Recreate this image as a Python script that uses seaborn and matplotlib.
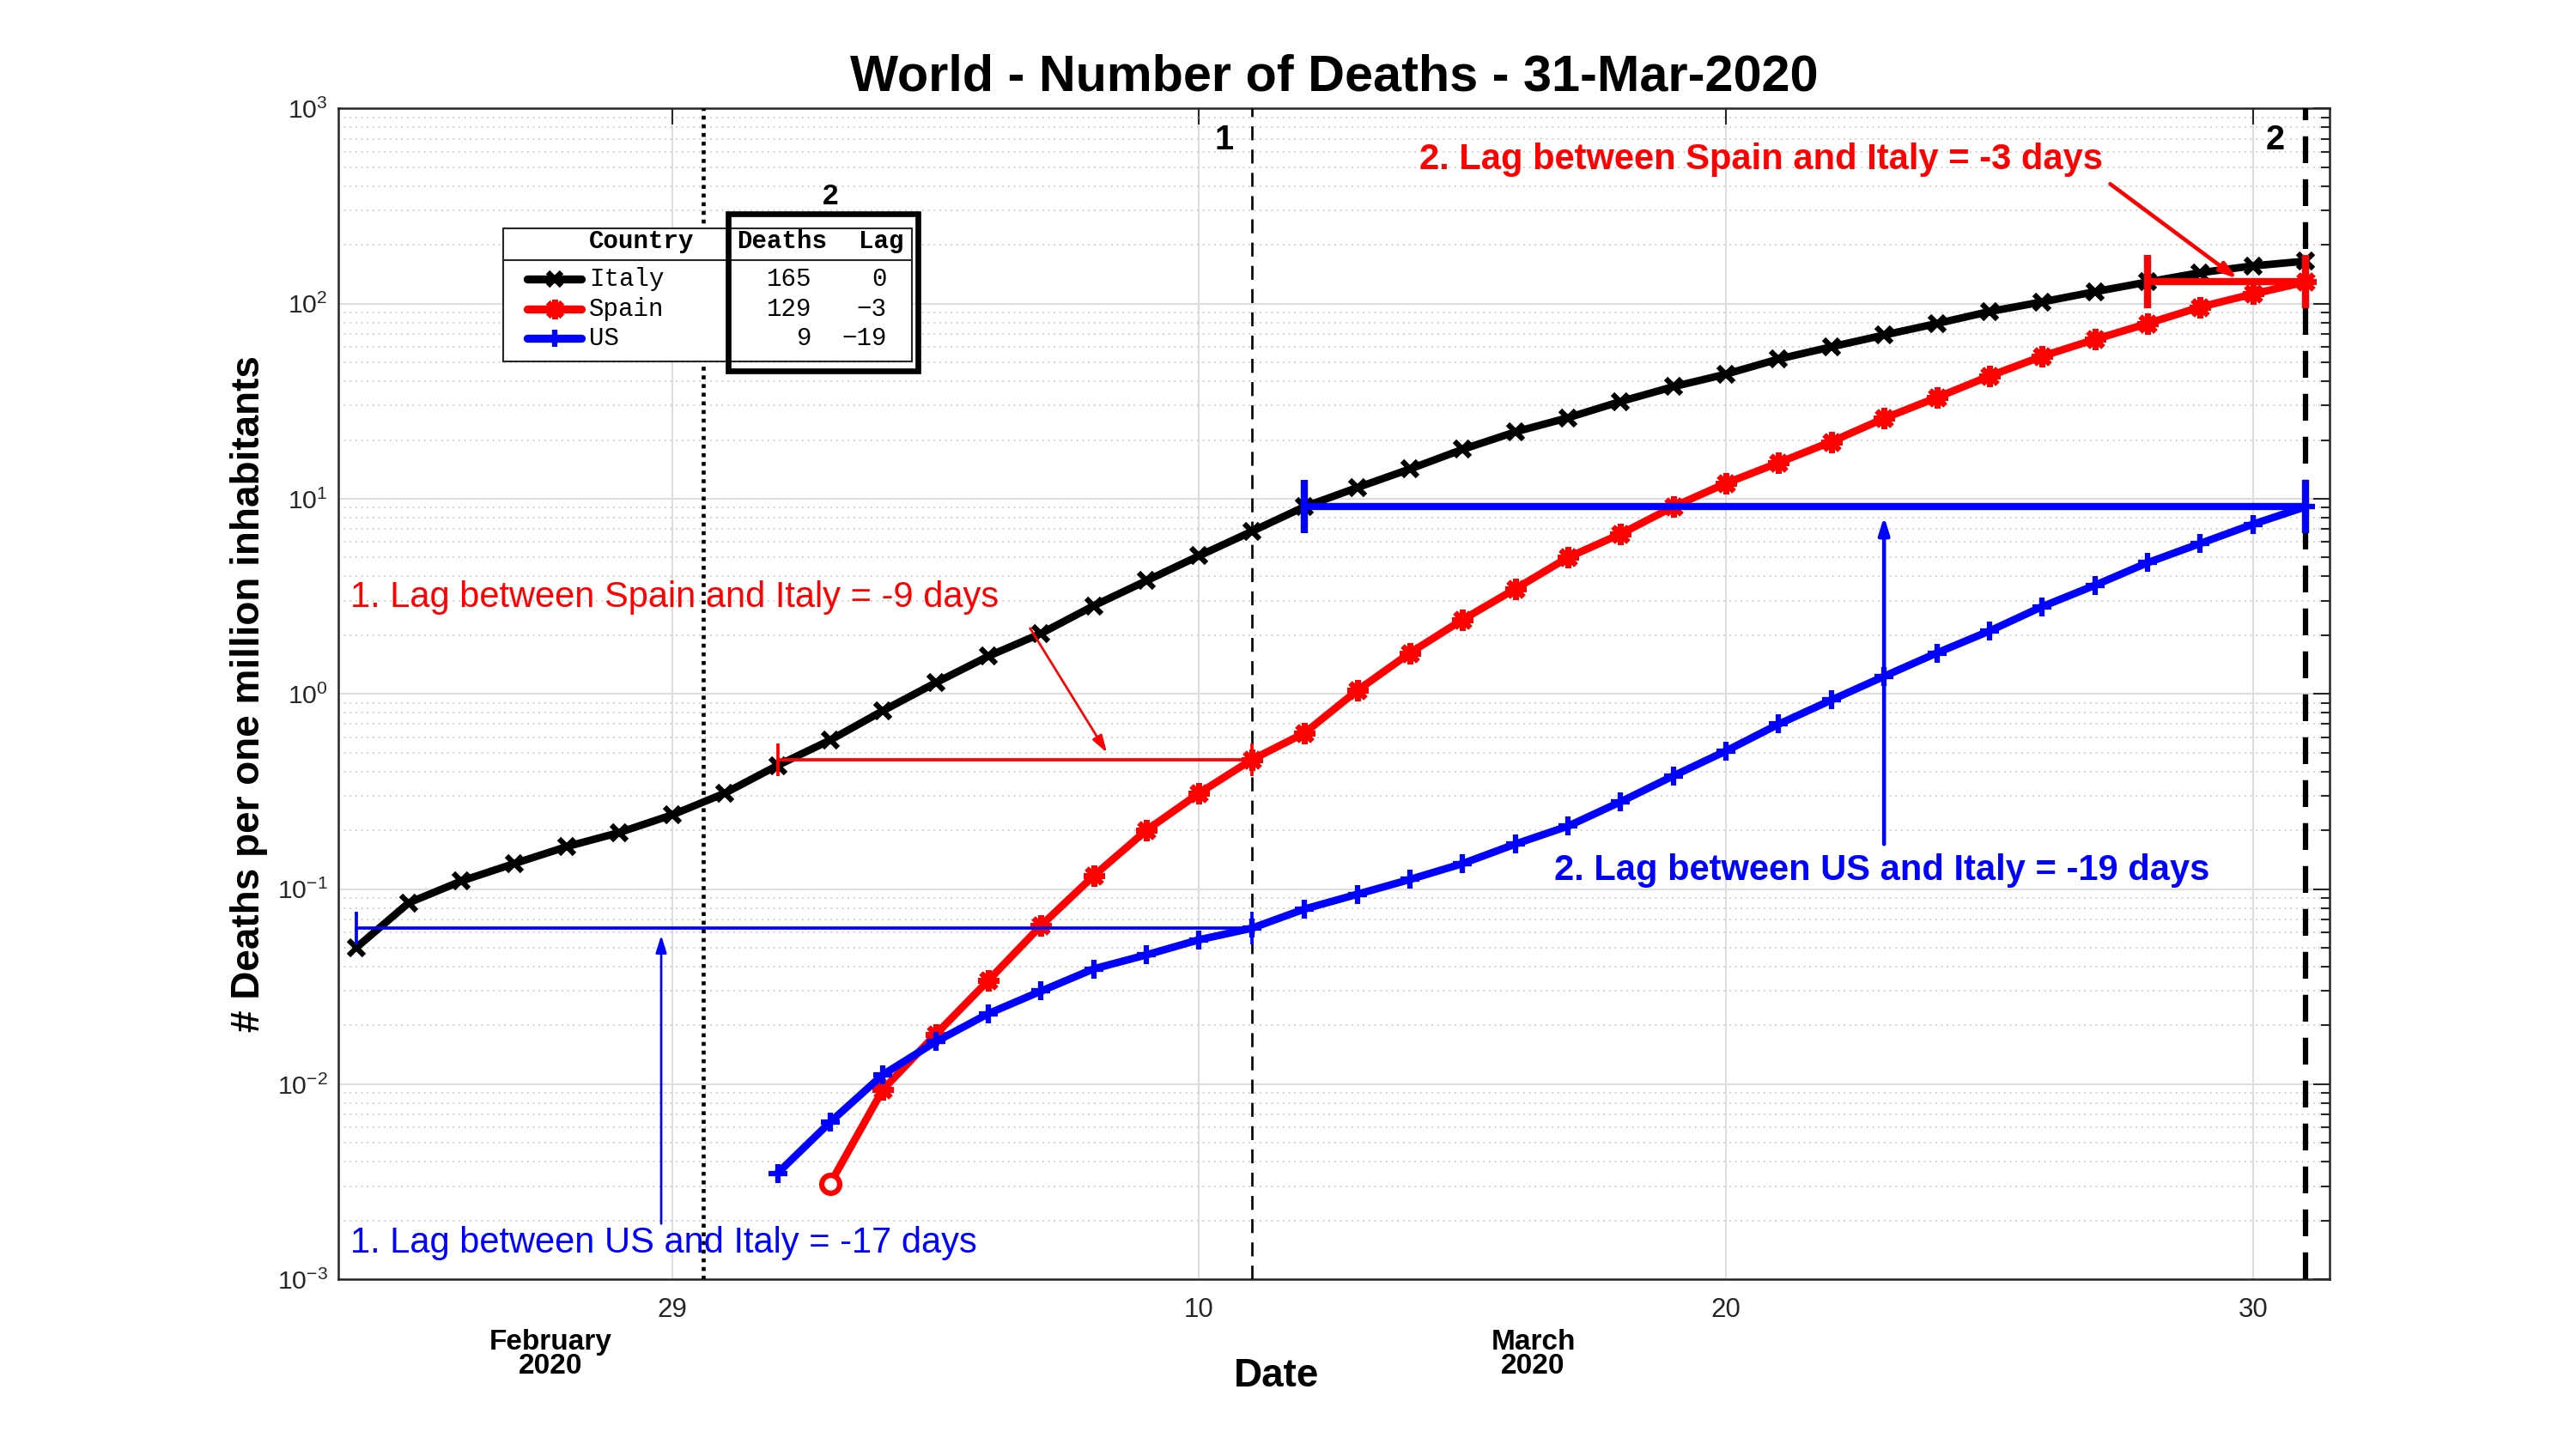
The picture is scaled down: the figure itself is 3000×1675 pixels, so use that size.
import numpy as np
import pandas as pd
import matplotlib
matplotlib.use("Agg")
import matplotlib.pyplot as plt
import matplotlib.dates as mdates
from matplotlib.ticker import LogLocator, FixedLocator, NullFormatter
from matplotlib.lines import Line2D
from matplotlib.patches import Rectangle
import seaborn as sns

# deaths per one million inhabitants, one value per day
italy_dates = pd.date_range("2020-02-23", "2020-03-31")
italy = [0.050, 0.085, 0.11, 0.135, 0.165, 0.195, 0.24, 0.31, 0.43, 0.58,
         0.82, 1.14, 1.56, 2.04, 2.83, 3.8, 5.1, 6.8, 9.1, 11.4,
         14.2, 17.9, 22.0, 26.0, 31.5, 37.5, 43.5, 52.0, 60.0, 69.0,
         79.0, 91.0, 102.0, 115.0, 129.0, 144.0, 156.0, 165.0]

spain_dates = pd.date_range("2020-03-03", "2020-03-31")
spain = [0.0031, 0.0094, 0.018, 0.034, 0.065, 0.117, 0.20, 0.31, 0.46, 0.63,
         1.04, 1.62, 2.4, 3.45, 5.0, 6.6, 9.1, 12.0, 15.3, 19.6,
         25.8, 33.0, 42.5, 53.7, 65.5, 79.0, 96.0, 112.0, 129.0]

us_dates = pd.date_range("2020-03-02", "2020-03-31")
us = [0.0035, 0.0064, 0.0112, 0.0165, 0.023, 0.030, 0.039, 0.046, 0.055, 0.063,
      0.079, 0.094, 0.112, 0.135, 0.17, 0.21, 0.28, 0.38, 0.51, 0.70,
      0.93, 1.23, 1.62, 2.1, 2.8, 3.6, 4.7, 5.9, 7.4, 9.1]

countries = ["Italy", "Spain", "US"]
table_deaths = [165, 129, 9]
table_lags = [0, -3, -19]

# lag segments: (country, start, end, step)
lag_segments = [
    ("Spain", "2020-03-02", "2020-03-11", 1),
    ("US", "2020-02-23", "2020-03-11", 1),
    ("Spain", "2020-03-28", "2020-03-31", 2),
    ("US", "2020-03-12", "2020-03-31", 2),
]
step1_date = "2020-03-11"
step2_date = "2020-03-31"
dotted_date = "2020-02-29 14:00"
x_ticks = ["2020-02-29", "2020-03-10", "2020-03-20", "2020-03-30"]

frames = []
for name, d, v in [("Italy", italy_dates, italy), ("Spain", spain_dates, spain), ("US", us_dates, us)]:
    frames.append(pd.DataFrame({"date": d, "value": v, "country": name}))
df = pd.concat(frames, ignore_index=True)

colors = {"Italy": "black", "Spain": "red", "US": "blue"}
markers = {"Italy": "x", "Spain": (8, 2, 0), "US": "+"}
msizes = {"Italy": 9, "Spain": 12, "US": 11}

sns.set_style("white")
plt.rcParams["font.family"] = ["Liberation Sans", "DejaVu Sans"]
plt.rcParams["mathtext.fontset"] = "custom"
plt.rcParams["mathtext.rm"] = "Liberation Sans"
plt.rcParams["text.color"] = "black"

fig = plt.figure(figsize=(20, 11.1667), dpi=150)
ax = fig.add_axes([0.1314, 0.1103, 0.7730, 0.8143])

ax.set_yscale("log")
ax.set_ylim(1e-3, 1e3)
ax.set_xlim(pd.Timestamp("2020-02-22 16:00"), pd.Timestamp("2020-03-31 11:00"))

for name in countries:
    sub = df[df["country"] == name]
    sns.lineplot(data=sub, x="date", y="value", ax=ax, color=colors[name],
                 linewidth=4.2, marker=markers[name], markersize=msizes[name],
                 markeredgewidth=3, markeredgecolor=colors[name], zorder=5)

# open marker on the first Spain point
ax.plot(spain_dates[:1], spain[:1], marker="o", markersize=10, mfc="white",
        mec="red", mew=3, ls="none", zorder=6)

series = {"Spain": pd.Series(spain, index=spain_dates), "US": pd.Series(us, index=us_dates)}
for name, start, end, step in lag_segments:
    level = series[name][pd.Timestamp(end)]
    xs = [pd.Timestamp(start), pd.Timestamp(end)]
    lw = 1.8 if step == 1 else 4.0
    ms = 18 if step == 1 else 30
    mew = 1.8 if step == 1 else 4.0
    ax.plot(xs, [level, level], color=colors[name], lw=lw, zorder=7)
    ax.plot(xs, [level, level], color=colors[name], ls="none", marker="|",
            markersize=ms, markeredgewidth=mew, zorder=7)

ax.axvline(pd.Timestamp(dotted_date), color="black", ls=(0, (1, 1.2)), lw=2.2, zorder=3)
ax.axvline(pd.Timestamp(step1_date), color="black", ls=(0, (6, 4)), lw=1.3, zorder=3)
ax.axvline(pd.Timestamp(step2_date), color="black", ls=(0, (5, 3)), lw=3.0, zorder=3)

# axes, ticks and grid
ax.xaxis.set_major_locator(FixedLocator(mdates.date2num(pd.to_datetime(x_ticks))))
ax.xaxis.set_major_formatter(mdates.DateFormatter("%-d"))
ax.yaxis.set_major_locator(LogLocator(base=10, numticks=10))
ax.yaxis.set_minor_locator(LogLocator(base=10, subs=np.arange(2, 10), numticks=100))
ax.yaxis.set_minor_formatter(NullFormatter())
ax.grid(True, which="major", color="#dddddd", lw=1.0, zorder=0)
ax.grid(True, which="minor", axis="y", color="#c4c4c4", ls=(0, (1, 3)), lw=0.8, zorder=0)
ax.tick_params(which="both", direction="in", top=True, right=True)
ax.tick_params(which="major", length=9, width=1)
ax.tick_params(which="minor", length=5, width=1)
ax.tick_params(axis="y", labelsize=14.5, colors="#262626", pad=6)
ax.tick_params(axis="x", labelsize=15, colors="#262626", pad=10)
for sp in ax.spines.values():
    sp.set_color("#262626")
    sp.set_linewidth(1.2)

ax.set_xlabel("")
ax.set_ylabel("# Deaths per one million inhabitants", fontsize=22, fontweight="bold",
              labelpad=5, color="black")
ax.text(0.471, -0.083, "Date", transform=ax.transAxes, ha="center", va="center",
        fontsize=22, fontweight="bold")
ax.text(0.1064, -0.064, "February\n2020", transform=ax.transAxes, ha="center", va="center",
        fontsize=16, fontweight="bold", linespacing=0.9)
ax.text(0.600, -0.064, "March\n2020", transform=ax.transAxes, ha="center", va="center",
        fontsize=16, fontweight="bold", linespacing=0.9)
ax.set_title("World - Number of Deaths - 31-Mar-2020", fontsize=28.5, fontweight="bold",
             pad=10, color="black")

# lag annotations
ax.text(0.0058, 0.582, "1. Lag between Spain and Italy = -9 days", transform=ax.transAxes,
        color="red", fontsize=20, va="center", ha="left")
ax.text(0.543, 0.9565, "2. Lag between Spain and Italy = -3 days", transform=ax.transAxes,
        color="red", fontsize=20, fontweight="bold", va="center", ha="left")
ax.text(0.0058, 0.031, "1. Lag between US and Italy = -17 days", transform=ax.transAxes,
        color="blue", fontsize=20, va="center", ha="left")
ax.text(0.6106, 0.349, "2. Lag between US and Italy = -19 days", transform=ax.transAxes,
        color="blue", fontsize=20, fontweight="bold", va="center", ha="left")

arrows = [
    ("red", ("2020-03-06 19:00", 2.17), ("2020-03-08 06:00", 0.50), 1.3),
    ("red", ("2020-03-27 07:00", 410), ("2020-03-29 17:00", 134), 2.2),
    ("blue", ("2020-02-28 19:00", 0.00193), ("2020-02-28 19:00", 0.058), 1.3),
    ("blue", ("2020-03-23 00:00", 0.17), ("2020-03-23 00:00", 8.1), 2.2),
]
for col, (t0, y0), (t1, y1), lw in arrows:
    ax.annotate("", xy=(pd.Timestamp(t1), y1), xytext=(pd.Timestamp(t0), y0),
                arrowprops=dict(arrowstyle="-|>,head_length=0.8,head_width=0.25",
                                color=col, lw=lw, shrinkA=0, shrinkB=0), zorder=8)

ax.text(0.4447, 0.973, "1", transform=ax.transAxes, fontsize=19, fontweight="bold",
        ha="center", va="center")
ax.text(0.9728, 0.973, "2", transform=ax.transAxes, fontsize=19, fontweight="bold",
        ha="center", va="center")

# table legend
mono = ["Liberation Mono", "DejaVu Sans Mono"]
tfs = 14
ax.add_patch(Rectangle((0.0829, 0.7840), 0.2050, 0.1136, transform=ax.transAxes,
                       facecolor="white", edgecolor="#262626", lw=1.0, zorder=10))
ax.add_line(Line2D([0.0829, 0.2879], [0.8703, 0.8703], transform=ax.transAxes,
                   color="#262626", lw=1.0, zorder=11))
ax.add_patch(Rectangle((0.1955, 0.7756), 0.0957, 0.1346, transform=ax.transAxes,
                       facecolor="none", edgecolor="black", lw=3.2, zorder=12))
ax.text(0.2471, 0.9243, "2", transform=ax.transAxes, fontsize=16, fontweight="bold",
        ha="center", va="center", zorder=12)
ax.text(0.1259, 0.8864, "Country", transform=ax.transAxes, fontsize=tfs, fontweight="bold",
        family=mono, ha="left", va="center", zorder=12)
ax.text(0.2228, 0.8864, "Deaths", transform=ax.transAxes, fontsize=tfs, fontweight="bold",
        family=mono, ha="center", va="center", zorder=12)
ax.text(0.2838, 0.8864, "Lag", transform=ax.transAxes, fontsize=tfs, fontweight="bold",
        family=mono, ha="right", va="center", zorder=12)
row_y = [0.8541, 0.8289, 0.8036]
for name, d, lag, yy in zip(countries, table_deaths, table_lags, row_y):
    ax.add_line(Line2D([0.0949, 0.1221], [yy, yy], transform=ax.transAxes, color=colors[name],
                       lw=4.5, zorder=11))
    ax.add_line(Line2D([0.1085], [yy], transform=ax.transAxes, color=colors[name],
                       marker=markers[name], markersize=msizes[name] - 1, mew=3, zorder=11))
    ax.text(0.1259, yy, name, transform=ax.transAxes, fontsize=tfs, family=mono,
            ha="left", va="center", zorder=12)
    ax.text(0.2376, yy, str(d), transform=ax.transAxes, fontsize=tfs, family=mono,
            ha="right", va="center", zorder=12)
    ax.text(0.2752, yy, str(lag).replace("-", "\u2212"), transform=ax.transAxes, fontsize=tfs,
            family=mono, ha="right", va="center", zorder=12)

fig.savefig("out.png", dpi=150, facecolor="white")
